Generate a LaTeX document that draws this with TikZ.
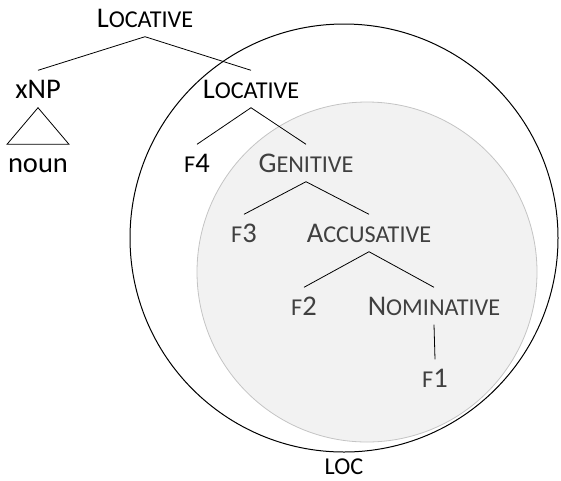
\documentclass[tikz,border=0pt]{standalone}
\usepackage{fontspec}
\setmainfont{Carlito}
\definecolor{incirc}{HTML}{F2F2F2}
\definecolor{incircedge}{HTML}{C4C4C4}
\definecolor{intext}{HTML}{404040}
\newcommand{\fsc}[1]{{\fontsize{24.2pt}{25pt}\selectfont\MakeUppercase{#1}}}
\tikzset{
  lbl/.style={inner xsep=0pt,inner ysep=9.5pt,text height=18pt,text depth=0pt,anchor=base,font=\fontsize{28.5pt}{30pt}\selectfont},
  branch/.style={line width=0.8pt}
}

\begin{document}
\begin{tikzpicture}[x=1pt,y=-1pt]
  \useasboundingbox (0,0) rectangle (561,480);

  %the two circles
  \draw[line width=1pt] (344,238) circle (214);
  \draw[incircedge,fill=incirc,line width=0.8pt] (367,272) circle (170);

  %labels outside
  \node[lbl] (loctop) at (145,27) {L\fsc{ocative}};
  \node[lbl] (xnp) at (38,98) {xNP};
  \node[lbl] (noun) at (38,172) {noun};
  \node[lbl] (loc) at (251,98) {L\fsc{ocative}};
  \node[lbl] (ff) at (197,172) {\fsc{f}4};
  \node[lbl,inner ysep=0pt,text height=15pt] (locname) at (344,474) {\fsc{loc}};

  %labels inside the grey disc
  \node[lbl,intext] (gen) at (306,172) {G\fsc{enitive}};
  \node[lbl,intext] (fthree) at (244,242) {\fsc{f}3};
  \node[lbl,intext] (acc) at (369,242) {A\fsc{ccusative}};
  \node[lbl,intext] (ftwo) at (304,315) {\fsc{f}2};
  \node[lbl,intext] (nom) at (434,315) {N\fsc{ominative}};
  \node[lbl,intext] (fone) at (435,387) {\fsc{f}1};

  %branches
  \draw[branch] (loctop.south) -- (xnp.north);
  \draw[branch] (loctop.south) -- (loc.north);
  \draw[branch] (xnp.south) -- ([xshift=31pt]noun.north) -- ([xshift=-31pt]noun.north) -- cycle;
  \draw[branch] (loc.south) -- (ff.north);
  \draw[branch] (loc.south) -- (gen.north);
  \draw[branch] (gen.south) -- (fthree.north);
  \draw[branch] (gen.south) -- (acc.north);
  \draw[branch] (acc.south) -- (ftwo.north);
  \draw[branch] (acc.south) -- (nom.north);
  \draw[branch] (nom.south) -- (fone.north);
\end{tikzpicture}
\end{document}
